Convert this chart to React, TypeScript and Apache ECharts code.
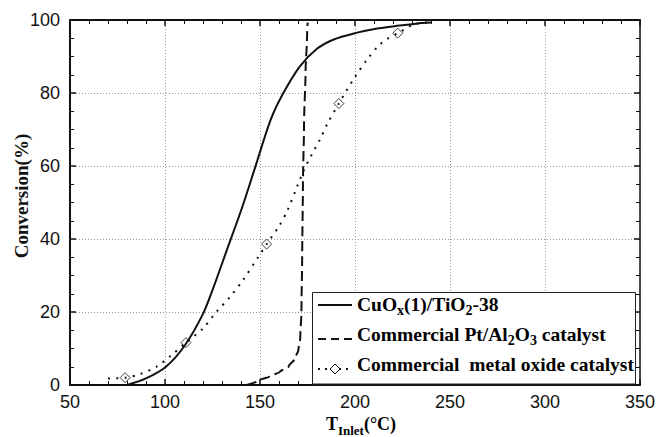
import React, { useEffect, useRef } from "react";
import * as echarts from "echarts";

// ---- data ----
const xMin = 50;
const xMax = 350;
const xStep = 50;
const yMin = 0;
const yMax = 100;
const yStep = 20;

// CuOx(1)/TiO2-38 (solid)
const cuoxT = [80, 90, 100.5, 110.5, 120, 125, 132.5, 140.5, 147.5, 155.5, 162, 171, 180, 188.5, 200, 211, 222, 232, 240];
const cuoxConv = [0, 1.8, 5, 10.9, 19.5, 26, 36.9, 48.5, 59.7, 72.5, 79.7, 87.3, 92.1, 94.6, 96.4, 97.6, 98.4, 99, 99.3];

// Commercial Pt/Al2O3 catalyst (dashed)
const ptT = [143, 150, 155, 160.5, 165, 168.4, 170.2, 171.2, 171.8, 172.2, 172.6, 173.2, 174, 174.8, 175.1];
const ptConv = [0, 1.4, 2.3, 3.6, 5, 7.3, 9.5, 13, 20, 35, 55, 72, 86, 96, 99.3];

// Commercial metal oxide catalyst (dotted)
const moxT = [70, 79, 87, 95.5, 103, 111, 120, 127, 134, 141, 149, 153.5, 160, 164.5, 169.5, 173, 177, 181.5, 185.5, 191.5, 195, 200, 206, 212.5, 217, 222.5, 226, 231, 238];
const moxConv = [1.8, 2, 3, 5, 8, 11.6, 15.5, 20, 24, 28.7, 35, 38.6, 43.5, 47.9, 54.3, 58.8, 62.9, 67.2, 71.6, 77.1, 80.2, 84.4, 88.9, 93, 94.8, 96.4, 97.4, 98.8, 99.3];

// metal oxide catalyst diamond markers
const moxMarkT = [79, 111, 153.5, 191.5, 222.5];
const moxMarkConv = [2, 11.6, 38.6, 77.1, 96.4];

const seriesNames = ["CuOx(1)/TiO2-38", "Commercial Pt/Al2O3 catalyst", "Commercial metal oxide catalyst"];

const pairs = (xs: number[], ys: number[]) => xs.map((x, i) => [x, ys[i]]);

const sansFont = "'Liberation Sans', Arial, Helvetica, sans-serif";
const serifFont = "'Liberation Serif', 'Times New Roman', Times, serif";
const ink = "#111";

export default function App() {
  const ref = useRef<HTMLDivElement>(null);

  useEffect(() => {
    if (!ref.current) return;
    document.body.style.margin = "0";
    const chart = echarts.init(ref.current, undefined, { renderer: "svg" });

    const legendRich = {
      n: { fontSize: 19.5, fontWeight: "bold", fontFamily: serifFont, color: ink, lineHeight: 26, verticalAlign: "middle" },
      s: { fontSize: 14, fontWeight: "bold", fontFamily: serifFont, color: ink, lineHeight: 14, verticalAlign: "bottom" },
    };
    const titleRich = {
      n: { fontSize: 18, fontWeight: "bold", fontFamily: serifFont, color: ink, lineHeight: 26, verticalAlign: "middle" },
      s: { fontSize: 13, fontWeight: "bold", fontFamily: serifFont, color: ink, lineHeight: 13, verticalAlign: "bottom" },
    };

    const commonAxisLine = { show: true, onZero: false, lineStyle: { color: ink, width: 2 } };
    const commonTick = { show: true, inside: true, length: 6, lineStyle: { color: ink, width: 1.5 } };

    const legendZ = 100;
    const legendItems: any[] = [
      {
        type: "rect",
        z: legendZ,
        shape: { x: 312.5, y: 292.5, width: 323, height: 91.5 },
        style: { fill: "#fff", stroke: "#222", lineWidth: 1 },
      },
      {
        type: "line",
        z: legendZ + 1,
        shape: { x1: 318, y1: 305, x2: 352, y2: 305 },
        style: { stroke: ink, lineWidth: 2 },
      },
      {
        type: "line",
        z: legendZ + 1,
        shape: { x1: 318, y1: 339, x2: 353, y2: 339 },
        style: { stroke: ink, lineWidth: 2, lineDash: [8, 5] },
      },
      {
        type: "line",
        z: legendZ + 1,
        shape: { x1: 318, y1: 369, x2: 353, y2: 369 },
        style: { stroke: ink, lineWidth: 2, lineDash: [2, 5] },
      },
      {
        type: "polygon",
        z: legendZ + 2,
        shape: { points: [[335, 364], [340, 369], [335, 374], [330, 369]] },
        style: { fill: "#fff", stroke: ink, lineWidth: 1 },
      },
      {
        type: "text",
        z: legendZ + 1,
        x: 357,
        y: 304,
        style: {
          text: "{n|CuO}{s|x}{n|(1)/TiO}{s|2}{n|-38}",
          rich: legendRich,
          align: "left",
          verticalAlign: "middle",
        },
      },
      {
        type: "text",
        z: legendZ + 1,
        x: 357,
        y: 334,
        style: {
          text: "{n|Commercial Pt/Al}{s|2}{n|O}{s|3}{n| catalyst}",
          rich: legendRich,
          align: "left",
          verticalAlign: "middle",
        },
      },
      {
        type: "text",
        z: legendZ + 1,
        x: 357,
        y: 364,
        style: {
          text: "{n|Commercial\u00a0 metal oxide catalyst}",
          rich: legendRich,
          align: "left",
          verticalAlign: "middle",
        },
      },
    ];

    const option: any = {
      animation: false,
      backgroundColor: "#fff",
      grid: { left: 70, right: 18, top: 20, bottom: 52, containLabel: false },
      xAxis: [
        {
          type: "value",
          min: xMin,
          max: xMax,
          interval: xStep,
          position: "bottom",
          axisLine: commonAxisLine,
          axisTick: commonTick,
          minorTick: { show: true, splitNumber: 5, length: 4, lineStyle: { color: ink, width: 1 } },
          axisLabel: { color: ink, fontSize: 18, fontFamily: sansFont, margin: 8 },
          splitLine: { show: true, lineStyle: { color: "#9a9a9a", width: 1, type: [1, 2] } },
        },
        {
          type: "value",
          min: xMin,
          max: xMax,
          interval: xStep,
          position: "top",
          axisLine: commonAxisLine,
          axisTick: commonTick,
          minorTick: { show: true, splitNumber: 5, length: 4, lineStyle: { color: ink, width: 1 } },
          axisLabel: { show: false },
          splitLine: { show: false },
        },
      ],
      yAxis: [
        {
          type: "value",
          min: yMin,
          max: yMax,
          interval: yStep,
          position: "left",
          axisLine: commonAxisLine,
          axisTick: commonTick,
          minorTick: { show: true, splitNumber: 4, length: 4, lineStyle: { color: ink, width: 1 } },
          axisLabel: { color: ink, fontSize: 18, fontFamily: sansFont, margin: 10 },
          splitLine: { show: true, lineStyle: { color: "#9a9a9a", width: 1, type: [1, 2] } },
        },
        {
          type: "value",
          min: yMin,
          max: yMax,
          interval: yStep,
          position: "right",
          axisLine: { show: true, onZero: false, lineStyle: { color: ink, width: 1.5 } },
          axisTick: commonTick,
          minorTick: { show: true, splitNumber: 4, length: 4, lineStyle: { color: ink, width: 1 } },
          axisLabel: { show: false },
          splitLine: { show: false },
        },
      ],
      series: [
        {
          name: seriesNames[0],
          type: "line",
          xAxisIndex: 0,
          yAxisIndex: 0,
          data: pairs(cuoxT, cuoxConv),
          showSymbol: false,
          smooth: 0.3,
          lineStyle: { color: ink, width: 2 },
          z: 3,
        },
        {
          name: seriesNames[1],
          type: "line",
          xAxisIndex: 0,
          yAxisIndex: 0,
          data: pairs(ptT, ptConv),
          showSymbol: false,
          smooth: 0.25,
          smoothMonotone: "y",
          lineStyle: { color: ink, width: 2, type: [10, 5] },
          z: 3,
        },
        {
          name: seriesNames[2],
          type: "line",
          xAxisIndex: 0,
          yAxisIndex: 0,
          data: pairs(moxT, moxConv),
          showSymbol: false,
          smooth: 0.3,
          lineStyle: { color: ink, width: 2, type: [2, 6.3] },
          z: 3,
        },
        {
          name: seriesNames[2] + " markers",
          type: "scatter",
          xAxisIndex: 0,
          yAxisIndex: 0,
          data: pairs(moxMarkT, moxMarkConv),
          symbol: "diamond",
          symbolSize: 10,
          itemStyle: { color: "rgba(255,255,255,0)", borderColor: ink, borderWidth: 1 },
          z: 4,
        },
      ],
      graphic: [
        {
          type: "text",
          x: 21,
          y: 196,
          rotation: Math.PI / 2,
          style: {
            text: "Conversion(%)",
            fontSize: 19,
            fontWeight: "bold",
            fontFamily: serifFont,
            fill: ink,
            align: "center",
            verticalAlign: "middle",
          },
        },
        {
          type: "text",
          x: 361,
          y: 424,
          style: {
            text: "{n|T}{s|Inlet}{n|(°C)}",
            rich: titleRich,
            align: "center",
            verticalAlign: "middle",
          },
        },
        ...legendItems,
      ],
    };

    chart.setOption(option);
    return () => chart.dispose();
  }, []);

  return <div ref={ref} style={{ position: "absolute", left: 0, top: 0, width: 658, height: 437 }} />;
}
